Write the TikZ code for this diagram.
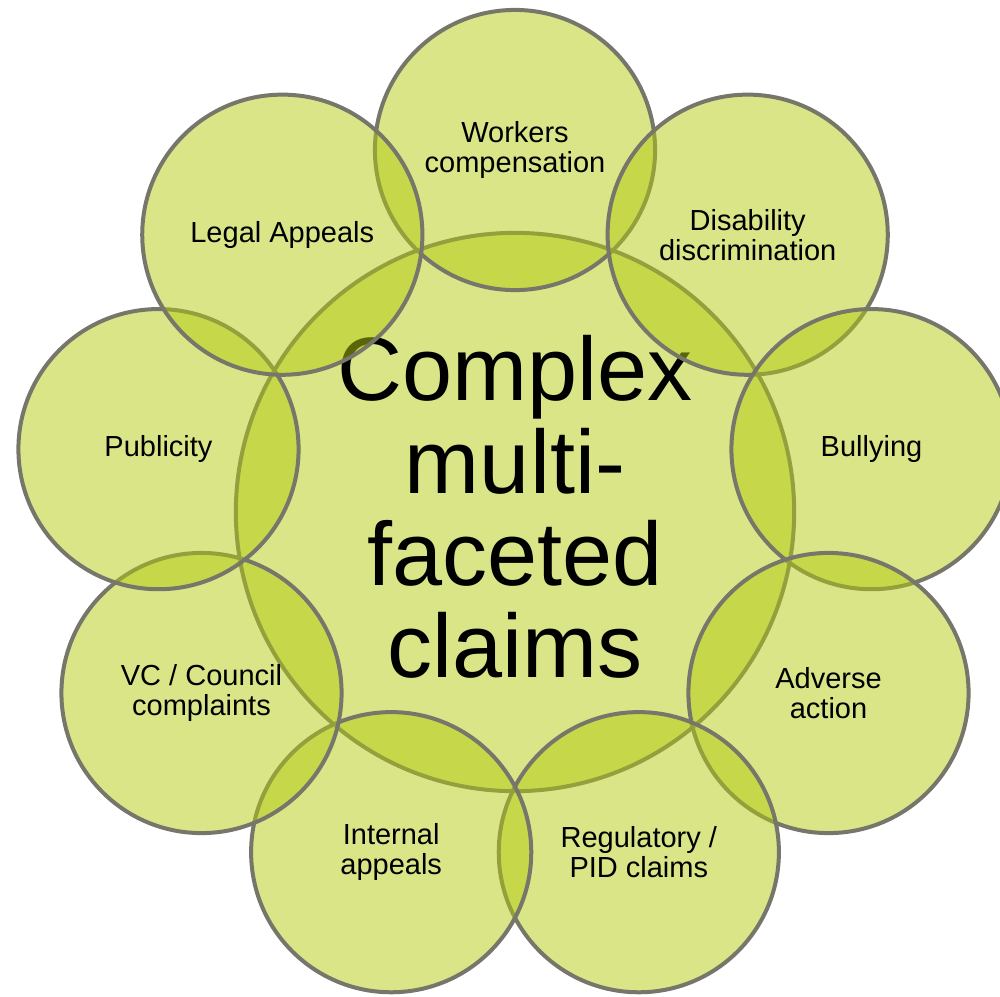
\documentclass[tikz,border=0pt]{standalone}
\usepackage{fontspec}
\setmainfont{Liberation Sans}
\usetikzlibrary{calc}
\definecolor{ringfill}{RGB}{179,203,15}
\definecolor{ringline}{RGB}{118,118,106}
\begin{document}
\begin{tikzpicture}[x=0.01cm,y=0.01cm,
  disc/.style={circle, draw=ringline, line width=0.04cm, fill=ringfill,
    fill opacity=0.5, text opacity=1, inner sep=0pt, align=center},
  hub/.style={disc, minimum size=5.58cm},
  hubtext/.style={inner sep=0pt, align=center, font=\fontsize{25.6}{26.2}\selectfont},
  petal/.style={disc, minimum size=2.8cm, font=\fontsize{8.25}{8.55}\selectfont}]
\useasboundingbox (0,-996) rectangle (1000,0);
\coordinate (ctr) at (515,-512);
% central claim, drawn first so the surrounding discs overlay it
\node[hub] (hub) at (ctr) {};
\node[hubtext] (hublabel) at ($(ctr)+(0,5)$) {Complex\\multi-\\faceted\\claims};
% surrounding discs, clockwise from the top
\node[petal] (workers)   at ($(ctr)+(90:362)$)   {Workers\\compensation};
\node[petal] (disab)     at ($(ctr)+(50:362)$)   {Disability\\discrimination};
\node[petal] (bully)     at ($(ctr)+(10:362)$)   {Bullying};
\node[petal] (adverse)   at ($(ctr)+(-30:362)$)  {Adverse\\action};
\node[petal] (regul)     at ($(ctr)+(-70:362)$)  {Regulatory /\\PID claims};
\node[petal] (internal)  at ($(ctr)+(-110:362)$) {Internal\\appeals};
\node[petal] (council)   at ($(ctr)+(-150:362)$) {VC / Council\\complaints};
\node[petal] (publicity) at ($(ctr)+(170:362)$)  {Publicity};
\node[petal] (legal)     at ($(ctr)+(130:362)$)  {Legal Appeals};
\end{tikzpicture}
\end{document}
